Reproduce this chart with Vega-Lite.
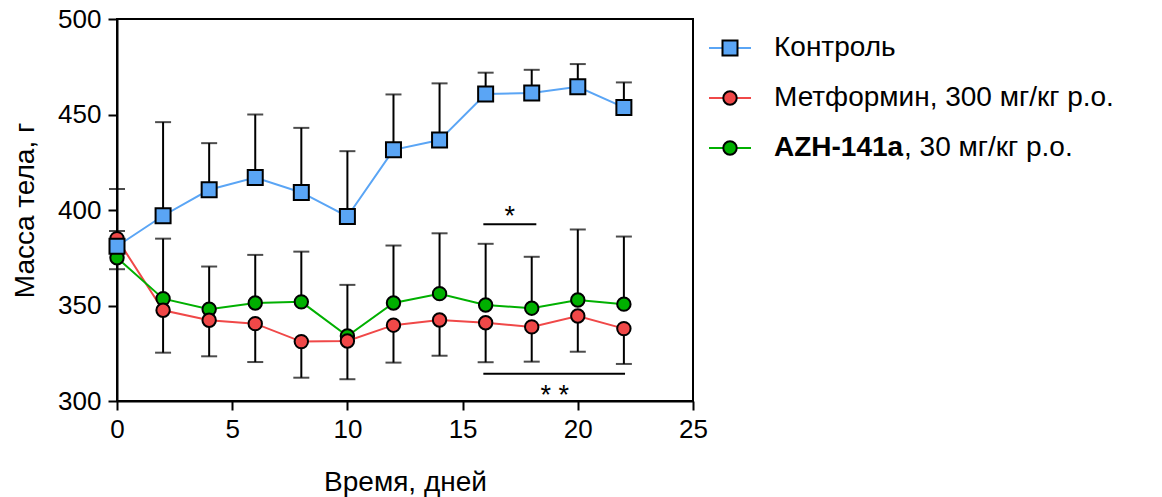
{
  "$schema": "https://vega.github.io/schema/vega-lite/v6.json",
  "background": "white",
  "padding": {"left": 10, "top": 5, "right": 5, "bottom": 5},
  "config": {
    "font": "Liberation Sans",
    "axis": {
      "grid": false,
      "labelFlush": false,
      "domainColor": "black",
      "domainWidth": 2,
      "tickColor": "black",
      "tickWidth": 2,
      "tickSize": 9,
      "labelFont": "Liberation Sans",
      "labelFontSize": 26,
      "labelColor": "black",
      "titleFont": "Liberation Sans",
      "titleFontSize": 28,
      "titleFontWeight": "normal",
      "titleColor": "black"
    }
  },
  "datasets": {
    "mass": [
      {"series": "Контроль", "day": 0, "mass": 381, "bar": 411},
      {"series": "Контроль", "day": 2, "mass": 397, "bar": 446},
      {"series": "Контроль", "day": 4, "mass": 410.6, "bar": 435},
      {"series": "Контроль", "day": 6, "mass": 417, "bar": 450},
      {"series": "Контроль", "day": 8, "mass": 409.2, "bar": 443},
      {"series": "Контроль", "day": 10, "mass": 396.6, "bar": 430.8},
      {"series": "Контроль", "day": 12, "mass": 431.5, "bar": 460.5},
      {"series": "Контроль", "day": 14, "mass": 436.6, "bar": 466.3},
      {"series": "Контроль", "day": 16, "mass": 460.7, "bar": 471.9},
      {"series": "Контроль", "day": 18, "mass": 461.2, "bar": 473.4},
      {"series": "Контроль", "day": 20, "mass": 464.5, "bar": 476.4},
      {"series": "Контроль", "day": 22, "mass": 453.7, "bar": 466.8},
      {"series": "Метформин, 300 мг/кг р.о.", "day": 0, "mass": 385, "bar": 369},
      {"series": "Метформин, 300 мг/кг р.о.", "day": 2, "mass": 347.5, "bar": 325.3},
      {"series": "Метформин, 300 мг/кг р.о.", "day": 4, "mass": 342.3, "bar": 323.4},
      {"series": "Метформин, 300 мг/кг р.о.", "day": 6, "mass": 340.5, "bar": 320.4},
      {"series": "Метформин, 300 мг/кг р.о.", "day": 8, "mass": 331.1, "bar": 312.2},
      {"series": "Метформин, 300 мг/кг р.о.", "day": 10, "mass": 331.4, "bar": 311.4},
      {"series": "Метформин, 300 мг/кг р.о.", "day": 12, "mass": 339.7, "bar": 320.1},
      {"series": "Метформин, 300 мг/кг р.о.", "day": 14, "mass": 342.4, "bar": 323.7},
      {"series": "Метформин, 300 мг/кг р.о.", "day": 16, "mass": 341, "bar": 320.3},
      {"series": "Метформин, 300 мг/кг р.о.", "day": 18, "mass": 338.8, "bar": 320.6},
      {"series": "Метформин, 300 мг/кг р.о.", "day": 20, "mass": 344.5, "bar": 325.8},
      {"series": "Метформин, 300 мг/кг р.о.", "day": 22, "mass": 337.9, "bar": 319.4},
      {"series": "AZH-141a, 30 мг/кг р.о.", "day": 0, "mass": 375, "bar": 389},
      {"series": "AZH-141a, 30 мг/кг р.о.", "day": 2, "mass": 353.6, "bar": 385},
      {"series": "AZH-141a, 30 мг/кг р.о.", "day": 4, "mass": 348, "bar": 370.4},
      {"series": "AZH-141a, 30 мг/кг р.о.", "day": 6, "mass": 351.3, "bar": 376.5},
      {"series": "AZH-141a, 30 мг/кг р.о.", "day": 8, "mass": 351.9, "bar": 378.2},
      {"series": "AZH-141a, 30 мг/кг р.о.", "day": 10, "mass": 334, "bar": 360.8},
      {"series": "AZH-141a, 30 мг/кг р.о.", "day": 12, "mass": 351.3, "bar": 381.4},
      {"series": "AZH-141a, 30 мг/кг р.о.", "day": 14, "mass": 356.2, "bar": 387.8},
      {"series": "AZH-141a, 30 мг/кг р.о.", "day": 16, "mass": 350.3, "bar": 382.3},
      {"series": "AZH-141a, 30 мг/кг р.о.", "day": 18, "mass": 348.6, "bar": 375.5},
      {"series": "AZH-141a, 30 мг/кг р.о.", "day": 20, "mass": 352.9, "bar": 389.8},
      {"series": "AZH-141a, 30 мг/кг р.о.", "day": 22, "mass": 350.7, "bar": 386.1}
    ],
    "signif": [
      {"label": "*", "from": 15.9, "to": 18.2, "level": 392.6, "at": 17.05, "textLevel": 392},
      {"label": "* *", "from": 15.9, "to": 22.05, "level": 314.3, "at": 19.0, "textLevel": 298.5}
    ],
    "legend": [
      {"series": "Контроль", "bold": "", "plain": "Контроль"},
      {"series": "Метформин, 300 мг/кг р.о.", "bold": "", "plain": "Метформин, 300 мг/кг р.о."},
      {"series": "AZH-141a, 30 мг/кг р.о.", "bold": "AZH-141a", "plain": ", 30 мг/кг р.о."}
    ]
  },
  "hconcat": [
    {
      "width": 576,
      "height": 382,
      "view": {"stroke": "black", "strokeWidth": 2},
      "layer": [
        {
          "data": {"name": "mass"},
          "mark": {"type": "line", "strokeWidth": 2},
          "encoding": {
            "x": {"field": "day", "type": "quantitative",
                  "scale": {"domain": [0, 25], "nice": false},
                  "axis": {"values": [0, 5, 10, 15, 20, 25], "title": "Время, дней", "titlePadding": 26, "labelPadding": 6}},
            "y": {"field": "mass", "type": "quantitative",
                  "scale": {"domain": [300, 500], "nice": false, "zero": false},
                  "axis": {"values": [300, 350, 400, 450, 500], "title": "Масса тела, г", "titlePadding": 18, "labelPadding": 7}},
            "color": {"field": "series", "type": "nominal", "legend": null,
                      "scale": {"domain": ["AZH-141a, 30 мг/кг р.о.", "Метформин, 300 мг/кг р.о.", "Контроль"],
                                "range": ["#00B000", "#F04848", "#5AA5F5"]}},
            "order": {"field": "day", "type": "quantitative"}
          }
        },
        {
          "data": {"name": "mass"},
          "mark": {"type": "rule", "color": "black", "strokeWidth": 2},
          "encoding": {
            "x": {"field": "day", "type": "quantitative"},
            "y": {"field": "mass", "type": "quantitative"},
            "y2": {"field": "bar"}
          }
        },
        {
          "data": {"name": "mass"},
          "mark": {"type": "tick", "orient": "horizontal", "color": "black", "size": 16, "thickness": 2},
          "encoding": {
            "x": {"field": "day", "type": "quantitative"},
            "y": {"field": "bar", "type": "quantitative"}
          }
        },
        {
          "data": {"name": "mass"},
          "transform": [{"filter": "datum.series === 'AZH-141a, 30 мг/кг р.о.'"}],
          "mark": {"type": "point", "shape": "circle", "filled": true, "size": 180, "stroke": "black", "strokeWidth": 2, "opacity": 1},
          "encoding": {
            "x": {"field": "day", "type": "quantitative"},
            "y": {"field": "mass", "type": "quantitative"},
            "color": {"field": "series", "type": "nominal", "legend": null}
          }
        },
        {
          "data": {"name": "mass"},
          "transform": [{"filter": "datum.series === 'Метформин, 300 мг/кг р.о.'"}],
          "mark": {"type": "point", "shape": "circle", "filled": true, "size": 180, "stroke": "black", "strokeWidth": 2, "opacity": 1},
          "encoding": {
            "x": {"field": "day", "type": "quantitative"},
            "y": {"field": "mass", "type": "quantitative"},
            "color": {"field": "series", "type": "nominal", "legend": null}
          }
        },
        {
          "data": {"name": "mass"},
          "transform": [{"filter": "datum.series === 'Контроль'"}],
          "mark": {"type": "point", "shape": "square", "filled": true, "size": 225, "stroke": "black", "strokeWidth": 2, "opacity": 1},
          "encoding": {
            "x": {"field": "day", "type": "quantitative"},
            "y": {"field": "mass", "type": "quantitative"},
            "color": {"field": "series", "type": "nominal", "legend": null}
          }
        },
        {
          "data": {"name": "signif"},
          "mark": {"type": "rule", "color": "black", "strokeWidth": 2},
          "encoding": {
            "x": {"field": "from", "type": "quantitative"},
            "x2": {"field": "to"},
            "y": {"field": "level", "type": "quantitative"}
          }
        },
        {
          "data": {"name": "signif"},
          "mark": {"type": "text", "font": "Liberation Sans", "fontSize": 27, "baseline": "alphabetic", "align": "center", "color": "black"},
          "encoding": {
            "x": {"field": "at", "type": "quantitative"},
            "y": {"field": "textLevel", "type": "quantitative"},
            "text": {"field": "label"}
          }
        }
      ]
    },
    {
      "width": 440,
      "height": 160,
      "view": {"stroke": null},
      "data": {"name": "legend"},
      "encoding": {
        "y": {"field": "series", "type": "nominal", "axis": null, "sort": null,
              "scale": {"type": "point", "padding": 0, "range": [29, 129]}}
      },
      "layer": [
        {
          "mark": {"type": "rule", "strokeWidth": 2},
          "encoding": {
            "x": {"datum": 0, "type": "quantitative", "scale": {"domain": [0, 1], "range": [0, 42]}, "axis": null},
            "x2": {"datum": 1},
            "color": {"field": "series", "type": "nominal", "legend": null,
                      "scale": {"domain": ["AZH-141a, 30 мг/кг р.о.", "Метформин, 300 мг/кг р.о.", "Контроль"],
                                "range": ["#00B000", "#F04848", "#5AA5F5"]}}
          }
        },
        {
          "transform": [{"filter": "datum.series !== 'Контроль'"}],
          "mark": {"type": "point", "shape": "circle", "filled": true, "size": 180, "stroke": "black", "strokeWidth": 2, "opacity": 1},
          "encoding": {
            "x": {"datum": 0.5, "type": "quantitative"},
            "color": {"field": "series", "type": "nominal", "legend": null}
          }
        },
        {
          "transform": [{"filter": "datum.series === 'Контроль'"}],
          "mark": {"type": "point", "shape": "square", "filled": true, "size": 225, "stroke": "black", "strokeWidth": 2, "opacity": 1},
          "encoding": {
            "x": {"datum": 0.5, "type": "quantitative"},
            "color": {"field": "series", "type": "nominal", "legend": null}
          }
        },
        {
          "transform": [{"filter": "datum.bold === ''"}],
          "mark": {"type": "text", "font": "Liberation Sans", "fontSize": 28, "align": "left", "baseline": "middle", "dx": 23, "color": "black"},
          "encoding": {
            "x": {"datum": 1, "type": "quantitative"},
            "text": {"field": "plain"}
          }
        },
        {
          "transform": [{"filter": "datum.bold !== ''"}],
          "mark": {"type": "text", "font": "Liberation Sans", "fontSize": 28, "fontWeight": "bold", "align": "left", "baseline": "middle", "dx": 23, "color": "black"},
          "encoding": {
            "x": {"datum": 1, "type": "quantitative"},
            "text": {"field": "bold"}
          }
        },
        {
          "transform": [{"filter": "datum.bold !== ''"}],
          "mark": {"type": "text", "font": "Liberation Sans", "fontSize": 28, "align": "left", "baseline": "middle", "dx": 153, "color": "black"},
          "encoding": {
            "x": {"datum": 1, "type": "quantitative"},
            "text": {"field": "plain"}
          }
        }
      ]
    }
  ],
  "spacing": -14
}
